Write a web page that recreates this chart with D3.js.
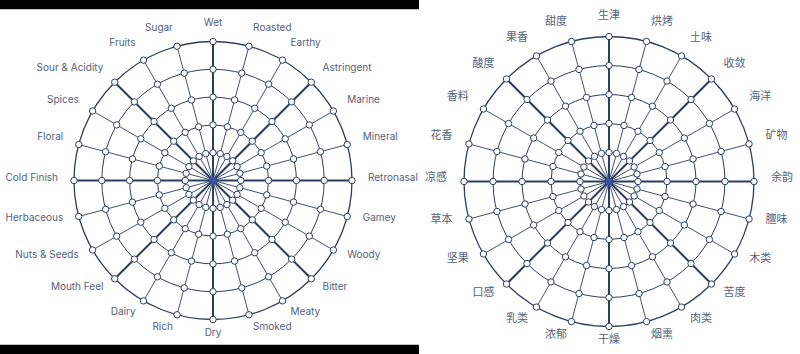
<!DOCTYPE html>
<html>
<head>
<meta charset="utf-8">
<script src="https://cdn.jsdelivr.net/npm/d3@7"></script>
<style>
  html, body { margin: 0; padding: 0; background: #fff; }
  svg { display: block; }
</style>
</head>
<body>
<svg id="chart" width="800" height="354"></svg>
<script>
// Flavour attributes, clockwise from the top
const flavoursEn = ["Wet", "Roasted", "Earthy", "Astringent", "Marine", "Mineral",
  "Retronasal", "Gamey", "Woody", "Bitter", "Meaty", "Smoked", "Dry", "Rich",
  "Dairy", "Mouth Feel", "Nuts & Seeds", "Herbaceous", "Cold Finish", "Floral",
  "Spices", "Sour & Acidity", "Fruits", "Sugar"];
const flavoursZh = ["生津", "烘烤", "土味", "收敛", "海洋", "矿物",
  "余韵", "膻味", "木类", "苦度", "肉类", "烟熏", "干燥", "浓郁",
  "乳类", "口感", "坚果", "草本", "凉感", "花香",
  "香料", "酸度", "果香", "甜度"];
// Intensity levels of the web, from the centre outward
const levels = [1, 2, 3, 4, 5];
const maxLevel = 5;
// Every third spoke (the eight compass directions) is drawn heavier
const majorEvery = 3;

const svg = d3.select("#chart");
const ink = "#2b3d60";
const textInk = "#56627a";

// dark frame bars of the left panel
svg.append("rect").attr("x", 0).attr("y", 0).attr("width", 419).attr("height", 9).attr("fill", "#000");
svg.append("rect").attr("x", 0).attr("y", 345).attr("width", 419).attr("height", 9).attr("fill", "#000");
svg.append("line").attr("x1", 0).attr("x2", 419).attr("y1", 9.5).attr("y2", 9.5).attr("stroke", "#c4c4c4");
svg.append("line").attr("x1", 0).attr("x2", 419).attr("y1", 344.5).attr("y2", 344.5).attr("stroke", "#c4c4c4");

function drawWheel(cfg) {
  const g = svg.append("g").attr("transform", `translate(${cfg.cx},${cfg.cy})`);
  const n = cfg.labels.length;
  const angle = d3.scaleLinear().domain([0, n]).range([0, 2 * Math.PI]);
  const radius = d3.scaleLinear().domain([0, maxLevel]).range([0, cfg.r]);
  const pt = (i, lv) => {
    const a = angle(i), r = radius(lv);
    return [r * Math.sin(a), -r * Math.cos(a)];
  };

  // rings
  levels.forEach(lv => {
    g.append("circle").attr("r", radius(lv)).attr("fill", "none")
      .attr("stroke", ink).attr("stroke-width", lv === maxLevel ? 1.3 : 1);
  });

  // spokes
  cfg.labels.forEach((lab, i) => {
    const major = i % majorEvery === 0;
    const [x, y] = pt(i, maxLevel);
    g.append("line").attr("x1", 0).attr("y1", 0).attr("x2", x).attr("y2", y)
      .attr("stroke", ink).attr("stroke-width", major ? 2 : 0.9);
  });

  // nodes
  levels.forEach(lv => {
    cfg.labels.forEach((lab, i) => {
      const [x, y] = pt(i, lv);
      g.append("circle").attr("cx", x).attr("cy", y).attr("r", 3.2)
        .attr("fill", "#fff").attr("stroke", ink).attr("stroke-width", 1);
    });
  });

  g.append("circle").attr("r", 3.6).attr("fill", "#3552a3");

  // labels
  cfg.labels.forEach((lab, i) => {
    const a = angle(i);
    const s = Math.sin(a);
    const x = cfg.lr * s, y = -cfg.lr * Math.cos(a) - cfg.dy;
    g.append("text").attr("x", x).attr("y", y)
      .attr("dy", "0.35em")
      .attr("text-anchor", Math.abs(s) < 0.01 ? "middle" : (s > 0 ? "start" : "end"))
      .attr("font-family", cfg.font).attr("font-size", cfg.size)
      .attr("fill", textInk).text(lab);
  });
}

drawWheel({ labels: flavoursEn, cx: 213, cy: 180.5, r: 139, lr: 155, dy: 3.5,
  font: "Inter, 'Noto Sans', sans-serif", size: 10 });
drawWheel({ labels: flavoursZh, cx: 609, cy: 181.5, r: 145, lr: 162, dy: 4,
  font: "'Noto Sans CJK SC', sans-serif", size: 11 });
</script>
</body>
</html>
